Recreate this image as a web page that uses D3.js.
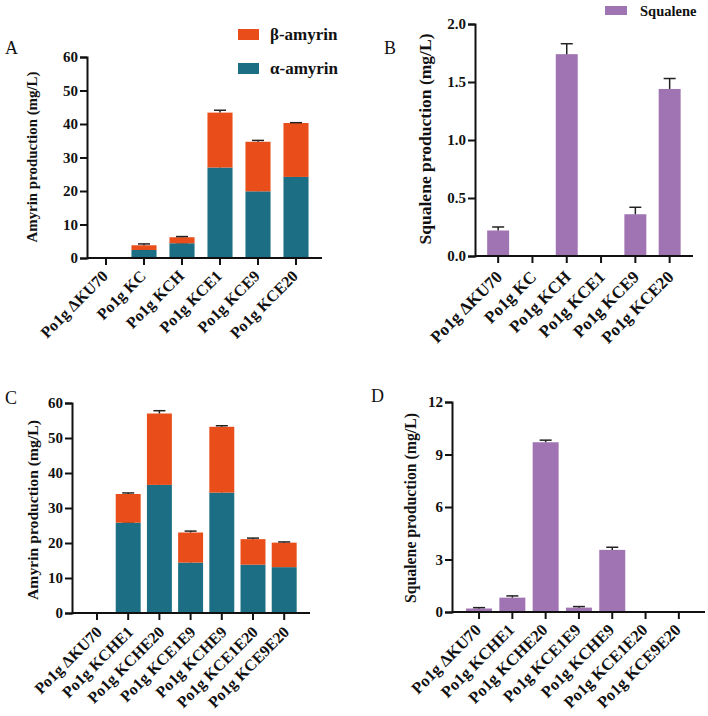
<!DOCTYPE html>
<html><head><meta charset="utf-8">
<script src="https://cdn.jsdelivr.net/npm/d3@7"></script>
<style>
body{margin:0;background:#fff;}
text{font-family:"Liberation Serif","Times New Roman",serif;}
</style></head>
<body><svg id="c" width="708" height="716"></svg>
<script>
// ---- data ----
const catsA = ["Po1g ΔKU70","Po1g KC","Po1g KCH","Po1g KCE1","Po1g KCE9","Po1g KCE20"];
const alphaA = [0, 2.4, 4.4, 27.0, 19.9, 24.2];
const alphaErrA = [0, 0.2, 0.2, 0.8, 1.8, 1.2];
const betaA = [0, 1.4, 1.8, 16.4, 14.8, 16.1];
const betaErrA = [0, 0.4, 0.2, 0.7, 0.4, 0.1];
const ticksA = [0,10,20,30,40,50,60];

const catsB = ["Po1g ΔKU70","Po1g KC","Po1g KCH","Po1g KCE1","Po1g KCE9","Po1g KCE20"];
const squaleneB = [0.22, 0, 1.74, 0, 0.36, 1.44];
const errB = [0.03, 0, 0.09, 0, 0.06, 0.09];
const ticksB = [0,0.5,1.0,1.5,2.0];

const catsC = ["Po1g ΔKU70","Po1g KCHE1","Po1g KCHE20","Po1g KCE1E9","Po1g KCHE9","Po1g KCE1E20","Po1g KCE9E20"];
const alphaC = [0, 25.8, 36.6, 14.4, 34.4, 13.8, 13.1];
const alphaErrC = [0, 0.2, 0.5, 0.6, 0.7, 0, 0];
const betaC = [0, 8.2, 20.4, 8.6, 18.8, 7.3, 7.0];
const betaErrC = [0, 0.3, 0.8, 0.4, 0.3, 0.3, 0.2];
const ticksC = [0,10,20,30,40,50,60];

const catsD = ["Po1g ΔKU70","Po1g KCHE1","Po1g KCHE20","Po1g KCE1E9","Po1g KCHE9","Po1g KCE1E20","Po1g KCE9E20"];
const squaleneD = [0.2, 0.82, 9.7, 0.25, 3.55, 0, 0];
const errD = [0.05, 0.1, 0.12, 0.06, 0.15, 0, 0];
const ticksD = [0,3,6,9,12];

const colBeta = "#E94E1A", colAlpha = "#1B6E83", colSq = "#A073B3";

const svg = d3.select("#c");

function panel(o){
  const g = svg.append("g");
  const x = d3.scaleBand().domain(o.cats).range([o.bx0, o.bx0 + o.cats.length*o.step]).paddingInner(o.pad).paddingOuter(o.pad/2);
  const y = d3.scaleLinear().domain(o.dom).range([o.y0, o.y1]);
  let base = o.cats.map(()=>0);
  o.series.forEach(s=>{
    const b0 = base.slice();
    g.selectAll(null).data(o.cats).enter().append("rect")
      .attr("x", d=>x(d)).attr("width", x.bandwidth())
      .attr("y", (d,i)=>y(b0[i]+s.v[i])).attr("height",(d,i)=>y(b0[i])-y(b0[i]+s.v[i]))
      .attr("fill", s.c);
    base = base.map((b,i)=>b+s.v[i]);
    const eb = g.selectAll(null).data(o.cats.map((c,i)=>({c,i}))
      .filter(d=>s.v[d.i]>0 && s.e[d.i]>0)).enter().append("g");
    eb.append("line").attr("x1",d=>x(d.c)+x.bandwidth()/2).attr("x2",d=>x(d.c)+x.bandwidth()/2)
      .attr("y1",d=>y(base[d.i])).attr("y2",d=>y(base[d.i]+s.e[d.i])).attr("stroke","#222").attr("stroke-width",1.5);
    eb.append("line").attr("x1",d=>x(d.c)+x.bandwidth()/2-6).attr("x2",d=>x(d.c)+x.bandwidth()/2+6)
      .attr("y1",d=>y(base[d.i]+s.e[d.i])).attr("y2",d=>y(base[d.i]+s.e[d.i])).attr("stroke","#222").attr("stroke-width",1.5);
  });
  const ya = g.append("g").attr("transform",`translate(${o.ax},0)`)
    .call(d3.axisLeft(y).tickValues(o.ticks).tickFormat(o.fmt).tickSizeOuter(0).tickSize(7));
  ya.select(".domain").attr("stroke","#111").attr("stroke-width",2);
  ya.selectAll(".tick line").attr("stroke","#111").attr("stroke-width",2);
  ya.selectAll(".tick text").attr("font-family","Liberation Serif").attr("font-weight","bold").attr("font-size",15).attr("fill","#111").attr("x",-9);
  const xa = g.append("g").attr("transform",`translate(0,${o.y0})`)
    .call(d3.axisBottom(x).tickSizeOuter(0).tickSize(7));
  xa.select(".domain").attr("d",`M${o.ax},0H${o.axEnd}`).attr("stroke","#111").attr("stroke-width",2);
  xa.selectAll(".tick line").attr("stroke","#111").attr("stroke-width",2);
  xa.selectAll(".tick text").attr("font-family","Liberation Serif").attr("font-weight","bold").attr("font-size",o.xfs).attr("fill","#111")
    .attr("text-anchor","end").attr("y",0).attr("dy",0)
    .attr("transform",`translate(${o.xo[0]},${o.xo[1]}) rotate(-45)`);
  g.append("text").attr("transform",`translate(${o.tx},${o.ty}) rotate(-90)`).attr("text-anchor","middle")
    .attr("dominant-baseline","central").attr("font-weight","bold").attr("font-size",o.tfs).attr("fill","#111")
    .attr("textLength",o.tl).attr("lengthAdjust","spacingAndGlyphs").text(o.title);
  g.append("text").attr("x",o.lx).attr("y",o.ly).attr("font-size",18).attr("fill","#111").text(o.letter);
}

panel({cats:catsA, bx0:87, step:38, pad:0.34, dom:[0,60], y0:258, y1:57, ax:87, axEnd:322, xfs:16, xo:[3,19],
  series:[{v:alphaA,e:alphaErrA,c:colAlpha},{v:betaA,e:betaErrA,c:colBeta}], ticks:ticksA, fmt:d3.format("d"),
  title:"Amyrin production (mg/L)", tx:32, ty:157, tl:171, tfs:15, letter:"A", lx:5, ly:54});
panel({cats:catsB, bx0:481, step:34.3, pad:0.36, dom:[0,2], y0:256, y1:24, ax:475, axEnd:693, xfs:17, xo:[5,22],
  series:[{v:squaleneB,e:errB,c:colSq}], ticks:ticksB, fmt:d3.format(".1f"),
  title:"Squalene production (mg/L)", tx:425, ty:139, tl:211, tfs:16, letter:"B", lx:384, ly:54});
panel({cats:catsC, bx0:81.4, step:31.2, pad:0.2, dom:[0,60], y0:613, y1:403, ax:72, axEnd:310, xfs:16, xo:[6,20],
  series:[{v:alphaC,e:alphaErrC,c:colAlpha},{v:betaC,e:betaErrC,c:colBeta}], ticks:ticksC, fmt:d3.format("d"),
  title:"Amyrin production (mg/L)", tx:32, ty:510, tl:180, tfs:15.5, letter:"C", lx:5, ly:404});
panel({cats:catsD, bx0:462.4, step:33.3, pad:0.22, dom:[0,12], y0:612, y1:402, ax:452, axEnd:705, xfs:16.5, xo:[3,19],
  series:[{v:squaleneD,e:errD,c:colSq}], ticks:ticksD, fmt:d3.format("d"),
  title:"Squalene production (mg/L)", tx:410, ty:508, tl:190, tfs:16, letter:"D", lx:371, ly:402});

const legA = [{n:"β-amyrin",c:colBeta,y:29},{n:"α-amyrin",c:colAlpha,y:63}];
const lg = svg.append("g");
lg.selectAll(null).data(legA).enter().append("rect").attr("x",238).attr("y",d=>d.y).attr("width",21).attr("height",11).attr("fill",d=>d.c);
lg.selectAll(null).data(legA).enter().append("text").attr("x",270).attr("y",d=>d.y+5.5).attr("dominant-baseline","central")
  .attr("font-weight","bold").attr("font-size",17).attr("fill","#111").text(d=>d.n);
const legB = [{n:"Squalene",c:colSq}];
lg.selectAll(null).data(legB).enter().append("rect").attr("x",605).attr("y",6).attr("width",22).attr("height",9).attr("fill",d=>d.c);
lg.selectAll(null).data(legB).enter().append("text").attr("x",640).attr("y",11).attr("dominant-baseline","central")
  .attr("font-weight","bold").attr("font-size",14.5).attr("fill","#111").text(d=>d.n);
</script></body></html>
